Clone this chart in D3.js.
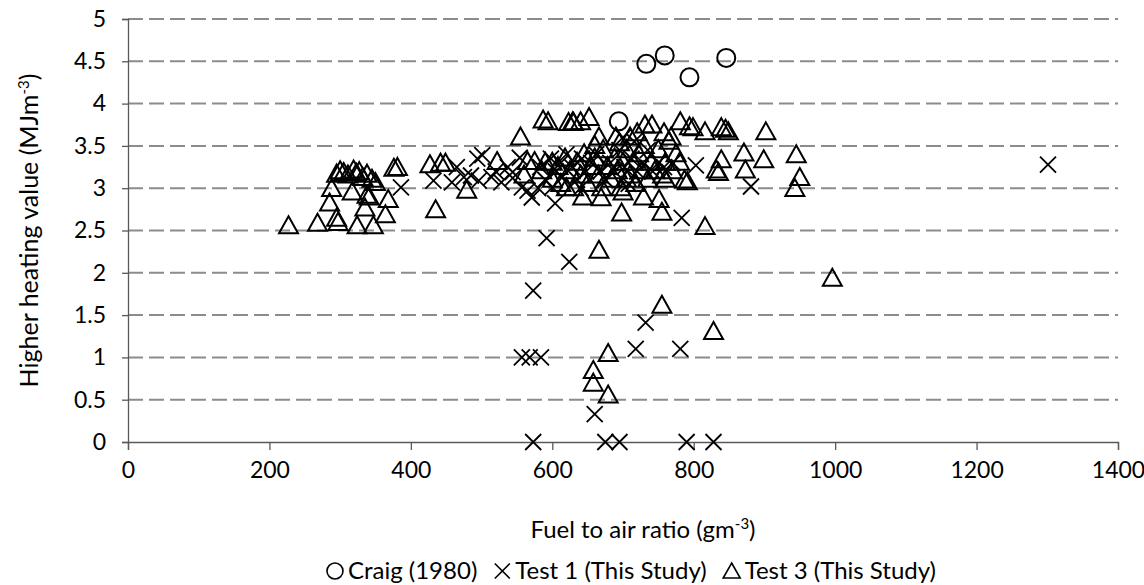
<!DOCTYPE html>
<html>
<head>
<meta charset="utf-8">
<script src="https://cdn.jsdelivr.net/npm/d3@7"></script>
<style>
  body { margin: 0; background: #fff; }
  svg text { font-family: Lato, "Open Sans", sans-serif; fill: #000; }
</style>
</head>
<body>
<svg id="chart" width="1144" height="585"></svg>
<script>
// Craig (1980)
const craig = [[694,3.79],[733,4.47],[759,4.57],[794,4.31],[846,4.54]];

// Test 1 (This Study)
const test1 = [
  [573,0],[675,0],[695,0],[790,0],[828,0],[660,0.33],[557,1.0],[568,1.0],[584,1.0],
  [718,1.1],[781,1.1],[732,1.41],[573,1.79],[592,2.41],[624,2.13],[604,2.82],[783,2.65],
  [881,3.02],[386,3.01],[1301,3.28],[803,3.27],
  [432,3.09],[458,3.07],[465,3.25],[475,3.13],[485,3.15],[494,3.35],[501,3.39],[496,3.09],
  [514,3.13],[528,3.07],[537,3.25],[544,3.19],[544,3.12],[554,3.36],[557,3.01],[565,2.97],
  [571,2.89],[580,3.0],[583,3.25],[600,3.01],[614,3.13],
  [598,3.35],[605,3.2],[612,3.3],[620,3.4],[628,3.25],[635,3.1],[642,3.35],[648,3.2],
  [655,3.3],[662,3.4],[668,3.2],[675,3.1],[682,3.3],[688,3.2],[695,3.45],[702,3.25],
  [708,3.05],[712,3.35],[720,3.2],[728,3.3],[735,3.45],[742,3.2],[750,3.3],[758,3.25],
  [770,3.3],[640,3.0],[700,3.6],[716,3.55],[520,3.2],[590,3.1]
];

// Test 3 (This Study)
const test3 = [
  [227,2.55],[268,2.58],[295,2.64],[297,2.59],[324,2.55],[347,2.55],[285,2.82],[288,2.99],
  [335,2.76],[364,2.68],[368,2.86],[338,2.91],[317,2.95],[341,2.89],[350,3.06],[435,2.74],
  [376,3.23],[381,3.24],[427,3.27],[295,3.16],[300,3.2],[305,3.18],[311,3.15],[319,3.21],
  [323,3.17],[327,3.19],[338,3.16],[332,3.12],[345,3.1],
  [587,3.8],[594,3.78],[623,3.77],[630,3.77],[555,3.6],[442,3.29],[449,3.29],[479,2.97],
  [522,3.31],[565,3.31],[575,3.31],[629,3.78],[640,3.78],[652,3.83],[731,3.74],[741,3.74],
  [781,3.78],[794,3.72],[666,3.6],[695,3.53],[758,3.65],[643,2.89],[669,2.88],[698,2.7],
  [755,2.71],[729,2.89],[787,3.09],
  [755,1.61],[666,2.26],[816,2.54],[751,2.86],[791,3.07],[873,3.21],[871,3.41],[839,3.33],
  [835,3.18],[832,3.21],[899,3.33],[799,3.71],[816,3.66],[839,3.71],[845,3.69],[849,3.66],
  [902,3.66],[945,3.39],[950,3.12],[943,2.99],[996,1.93],[679,1.04],[658,0.84],[658,0.69],
  [679,0.55],[828,1.3],
  [600,3.1],[608,3.25],[612,3.05],[618,3.35],[625,3.2],[630,3.0],[635,3.3],[640,3.15],
  [645,3.4],[650,3.05],[655,3.25],[660,3.35],[665,3.15],[670,3.0],[672,3.45],[678,3.25],
  [683,3.1],[688,3.35],[692,3.2],[697,3.0],[700,3.3],[705,3.45],[710,3.15],[714,3.3],
  [718,3.05],[722,3.4],[726,3.2],[730,3.5],[735,3.1],[740,3.3],[745,3.2],[750,3.45],
  [756,3.15],[760,3.3],[765,3.55],[770,3.2],[775,3.4],[780,3.3],[690,3.6],[710,3.6],
  [720,3.65],[660,3.5],[700,2.95],[705,3.1],[620,3.0],[760,3.1],[768,3.6],[600,3.3],
  [590,3.3],[585,3.2],[560,3.15]
];

const xTicks = [0, 200, 400, 600, 800, 1000, 1200, 1400];
const yTicks = [0, 0.5, 1, 1.5, 2, 2.5, 3, 3.5, 4, 4.5, 5];
const legendLabels = ["Craig (1980)", "Test 1 (This Study)", "Test 3 (This Study)"];

const svg = d3.select("#chart");
const margin = { top: 19, right: 26, bottom: 143, left: 128 };
const width = 1144 - margin.left - margin.right;
const height = 585 - margin.top - margin.bottom;

const x = d3.scaleLinear().domain([0, 1400]).range([0, width]);
const y = d3.scaleLinear().domain([0, 5]).range([height, 0]);

const g = svg.append("g").attr("transform", `translate(${margin.left},${margin.top})`);

// dashed gridlines
g.selectAll(".grid")
  .data(yTicks.filter(d => d > 0))
  .enter().append("line")
  .attr("x1", 0).attr("x2", width)
  .attr("y1", d => y(d)).attr("y2", d => y(d))
  .attr("stroke", "#8c8c8c")
  .attr("stroke-width", 2)
  .attr("stroke-dasharray", "15,6");

// axes
const xAxis = g.append("g")
  .attr("transform", `translate(0,${height})`)
  .call(d3.axisBottom(x).tickValues(xTicks).tickSize(8).tickPadding(7).tickFormat(d3.format("d")));
const yAxis = g.append("g")
  .call(d3.axisLeft(y).tickValues(yTicks).tickSize(6).tickPadding(16).tickFormat(d3.format("")));

[xAxis, yAxis].forEach(a => {
  a.select(".domain").attr("stroke", "#595959").attr("stroke-width", 1.3);
  a.selectAll(".tick line").attr("stroke", "#595959").attr("stroke-width", 1.3);
  a.selectAll(".tick text").style("font-size", "23px").attr("fill", "#000");
});
xAxis.selectAll(".tick text").attr("dy", "0.9em");

// markers
const triPath = "M0,-10L9.5,7L-9.5,7Z";
const crossPath = "M-8,-8L8,8M-8,8L8,-8";

g.append("g").selectAll("path")
  .data(test3)
  .enter().append("path")
  .attr("d", triPath)
  .attr("transform", d => `translate(${x(d[0])},${y(d[1])})`)
  .attr("fill", "none")
  .attr("stroke", "#000")
  .attr("stroke-width", 2);

g.append("g").selectAll("path")
  .data(test1)
  .enter().append("path")
  .attr("d", crossPath)
  .attr("transform", d => `translate(${x(d[0])},${y(d[1])})`)
  .attr("fill", "none")
  .attr("stroke", "#000")
  .attr("stroke-width", 1.8);

g.append("g").selectAll("circle")
  .data(craig)
  .enter().append("circle")
  .attr("cx", d => x(d[0]))
  .attr("cy", d => y(d[1]))
  .attr("r", 9)
  .attr("fill", "none")
  .attr("stroke", "#000")
  .attr("stroke-width", 2);

// axis titles
svg.append("text")
  .attr("x", 643)
  .attr("y", 538)
  .attr("text-anchor", "middle")
  .style("font-size", "24px")
  .html('Fuel to air ratio (gm<tspan dy="-9" font-size="15">-3</tspan><tspan dy="9">)</tspan>');

svg.append("text")
  .attr("transform", `translate(38,${margin.top + height / 2}) rotate(-90)`)
  .attr("text-anchor", "middle")
  .style("font-size", "25px")
  .html('Higher heating value (MJm<tspan dy="-9" font-size="15">-3</tspan><tspan dy="9">)</tspan>');

// legend, laid out as one centred line
const legend = svg.append("g");
const symbols = [
  s => s.append("circle").attr("r", 8),
  s => s.append("path").attr("d", "M-7.5,-7.5L7.5,7.5M-7.5,7.5L7.5,-7.5"),
  s => s.append("path").attr("d", "M0,-8L8.5,7L-8.5,7Z")
];
let cursor = 0;
legendLabels.forEach((label, i) => {
  const item = legend.append("g");
  const sym = item.append("g").attr("transform", "translate(9,0)");
  symbols[i](sym).attr("fill", "none").attr("stroke", "#000").attr("stroke-width", 1.6);
  const t = item.append("text").attr("x", 22).attr("y", 8).style("font-size", "24px").text(label);
  const w = 22 + t.node().getComputedTextLength();
  item.attr("transform", `translate(${cursor},0)`);
  cursor += w + 16;
});
const total = cursor - 16;
legend.attr("transform", `translate(${631 - total / 2},571)`);
</script>
</body>
</html>
